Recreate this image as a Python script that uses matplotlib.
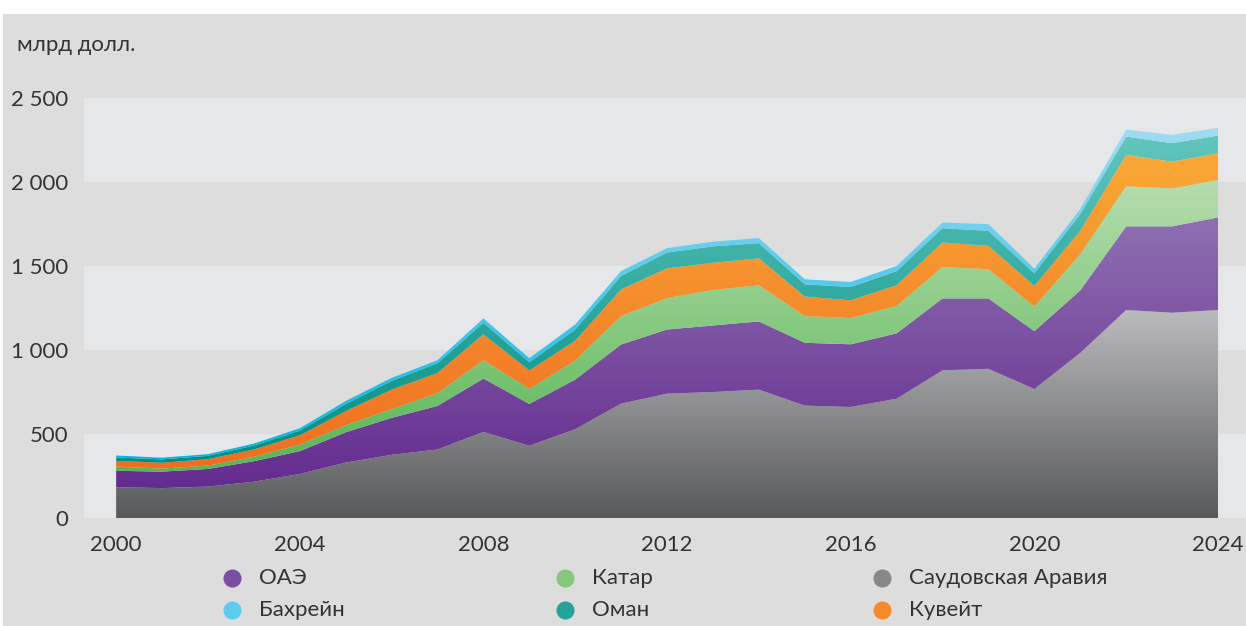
import numpy as np
import matplotlib
matplotlib.use("Agg")
import matplotlib.pyplot as plt
from matplotlib.colors import LinearSegmentedColormap
from matplotlib.patches import Rectangle

plt.rcParams['font.family'] = ['Lato', 'DejaVu Sans']

# Data (billion USD)
years = np.arange(2000, 2025)
saudi   = [183, 178, 187, 216, 262, 330, 376, 408, 512, 430, 529, 681, 740, 750, 764,
           669, 661, 710, 879, 888, 768, 983, 1238, 1222, 1238]
uae     = [98, 98, 105, 122, 136, 180, 220, 259, 318, 249, 295, 352, 382, 396, 406,
           374, 373, 389, 428, 419, 344, 372, 498, 514, 551]
qatar   = [25, 18, 20, 26, 38, 42, 52, 76, 109, 89, 113, 169, 187, 211, 215,
           159, 156, 163, 187, 174, 146, 215, 239, 226, 223]
kuwait  = [34, 35, 38, 44, 56, 84, 116, 120, 154, 110, 118, 159, 177, 162, 161,
           116, 106, 123, 146, 139, 123, 139, 186, 159, 159]
oman    = [20, 20, 20, 23, 28, 42, 52, 58, 69, 49, 67, 80, 94, 98, 90,
           73, 79, 85, 85, 89, 76, 100, 109, 110, 105]
bahrain = [12, 10, 10, 12, 14, 18, 18, 18, 26, 24, 30, 29, 26, 28, 30,
           30, 30, 30, 34, 40, 28, 30, 42, 50, 46]

series = [saudi, uae, qatar, kuwait, oman, bahrain]
names = ['Саудовская Аравия', 'ОАЭ', 'Катар', 'Кувейт', 'Оман', 'Бахрейн']
# (bottom colour, top colour) of each vertical gradient
grads = [('#58595b', '#bbbbbd'),
         ('#642b8f', '#8f70b2'),
         ('#58b654', '#b6ddae'),
         ('#f06d22', '#faa935'),
         ('#008e83', '#62c6be'),
         ('#00b6e6', '#a0dcf2')]
# legend dots use the middle of each gradient
dots = ['#88888a', '#7a4ea2', '#84c97a', '#f58a2a', '#23a399', '#5ccbee']

BG = '#dddddd'
BAND = '#e6e7e8'
TXT = '#333333'

fig = plt.figure(figsize=(12.46, 6.26), dpi=100)
fig.patch.set_facecolor('white')
fig.add_artist(Rectangle((3 / 1246, 0), 1, 1 - 14 / 626, transform=fig.transFigure,
                         facecolor=BG, edgecolor='none', zorder=0))

ax = fig.add_axes([84 / 1246, 108 / 626, 1162 / 1246, 420 / 626])
ax.set_facecolor(BG)
for lo in (0, 1000, 2000):
    ax.axhspan(lo, lo + 500, color=BAND, lw=0, zorder=0)

base = np.zeros(len(years))
for vals, (c0, c1) in zip(series, grads):
    top = base + np.array(vals, dtype=float)
    poly = ax.fill_between(years, base, top, color=c0, lw=0, zorder=1, alpha=0)
    path = poly.get_paths()[0]
    cmap = LinearSegmentedColormap.from_list('g', [c0, c1])
    g = np.linspace(0, 1, 256).reshape(-1, 1)
    im = ax.imshow(g, extent=[years[0], years[-1], base.min(), top.max()],
                   origin='lower', aspect='auto', cmap=cmap, zorder=2,
                   interpolation='bilinear')
    im.set_clip_path(path, transform=ax.transData)
    base = top

ax.set_xlim(1999.30, 2024.61)
ax.set_ylim(0, 2500)
for s in ax.spines.values():
    s.set_visible(False)
ax.set_yticks([0, 500, 1000, 1500, 2000, 2500])
ax.set_yticklabels(['0', '500', '1 000', '1 500', '2 000', '2 500'])
ax.set_xticks(np.arange(2000, 2025, 4))
ax.tick_params(length=0, labelsize=16, colors=TXT, pad=11)
ax.tick_params(axis='x', pad=12)

fig.text(17 / 1246, 1 - 45 / 626, 'млрд долл.', fontsize=16, color=TXT, va='center')

# legend laid out as in the original: 3 columns x 2 rows
order = [(1, 0, 0), (2, 1, 0), (0, 2, 0), (5, 0, 1), (4, 1, 1), (3, 2, 1)]
col_x = [232, 565, 882]
row_y = [578, 610]
for idx, c, r in order:
    cx, cy = col_x[c] / 1246, 1 - row_y[r] / 626
    fig.add_artist(plt.Line2D([cx], [cy], marker='o', markersize=13, color=dots[idx],
                              markeredgewidth=0, transform=fig.transFigure))
    fig.text(cx + 27 / 1246, cy, names[idx], fontsize=16, color=TXT, va='center')

fig.savefig('out.png', dpi=100, facecolor='white')
